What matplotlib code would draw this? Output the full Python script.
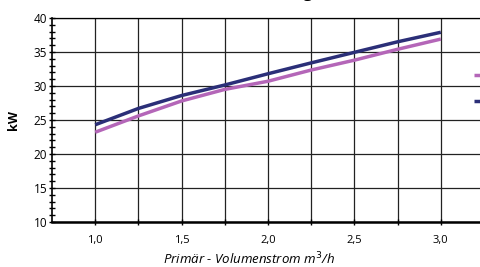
import matplotlib
matplotlib.use("Agg")
import matplotlib.pyplot as plt
from matplotlib.ticker import MultipleLocator, FixedLocator

# values
flow = [1.0, 1.25, 1.5, 1.75, 2.0, 2.25, 2.5, 2.75, 3.0]
kw_pink = [23.2, 25.6, 27.8, 29.5, 30.7, 32.35, 33.8, 35.4, 36.9]
kw_navy = [24.3, 26.7, 28.6, 30.15, 31.8, 33.4, 34.95, 36.5, 37.9]
x_ticks = [1.0, 1.5, 2.0, 2.5, 3.0]
x_labels = ["1,0", "1,5", "2,0", "2,5", "3,0"]
y_ticks = [10, 15, 20, 25, 30, 35, 40]

pink = "#b466b8"
navy = "#2b2f78"

plt.rcParams["font.family"] = ["Open Sans", "DejaVu Sans"]

fig = plt.figure(figsize=(4.81, 2.67), dpi=100)
ax = fig.add_axes([52 / 481, 1 - 222 / 267, (484 - 52) / 481, (222 - 18) / 267])

ax.set_xlim(0.75, 3.25)
ax.set_ylim(10, 40)

ax.plot(flow, kw_pink, color=pink, lw=2.5, solid_capstyle="butt", label="Heizleistung 1", zorder=3)
ax.plot(flow, kw_navy, color=navy, lw=2.5, solid_capstyle="butt", label="Heizleistung 2", zorder=3)

ax.xaxis.set_major_locator(FixedLocator(x_ticks))
ax.set_xticklabels(x_labels)
ax.xaxis.set_minor_locator(FixedLocator([1.25, 1.75, 2.25, 2.75]))
ax.yaxis.set_major_locator(FixedLocator(y_ticks))
ax.yaxis.set_minor_locator(MultipleLocator(1))
ax.tick_params(axis="y", which="both", direction="inout", length=5, width=1, labelsize=8.5, pad=1)
ax.tick_params(axis="x", which="both", direction="inout", length=4, width=1, labelsize=8, pad=7)

ax.grid(True, which="both", axis="x", color="#222222", lw=0.9)
ax.grid(True, which="major", axis="y", color="#222222", lw=0.9)
ax.spines["right"].set_visible(False)
ax.spines["top"].set_linewidth(0.9)
ax.spines["left"].set_linewidth(1.2)
ax.spines["bottom"].set_linewidth(1.8)

ax.set_ylabel("kW", fontsize=9, fontweight="bold", labelpad=10)
ax.set_xlabel("Primär - Volumenstrom m$^3$/h", fontsize=9.5, style="italic")
ax.xaxis.set_label_coords((249 - 52) / 432, -0.14)

fig.legend(loc="upper left", bbox_to_anchor=(474 / 481, 1 - 70 / 267), frameon=False,
           fontsize=7, handlelength=2, labelspacing=1.6, borderaxespad=0, borderpad=0)

fig.text(313 / 481, 1 + 2 / 267, "Leistung", ha="right", va="baseline", fontsize=11, fontweight="bold")

fig.savefig("out.png", dpi=100)
